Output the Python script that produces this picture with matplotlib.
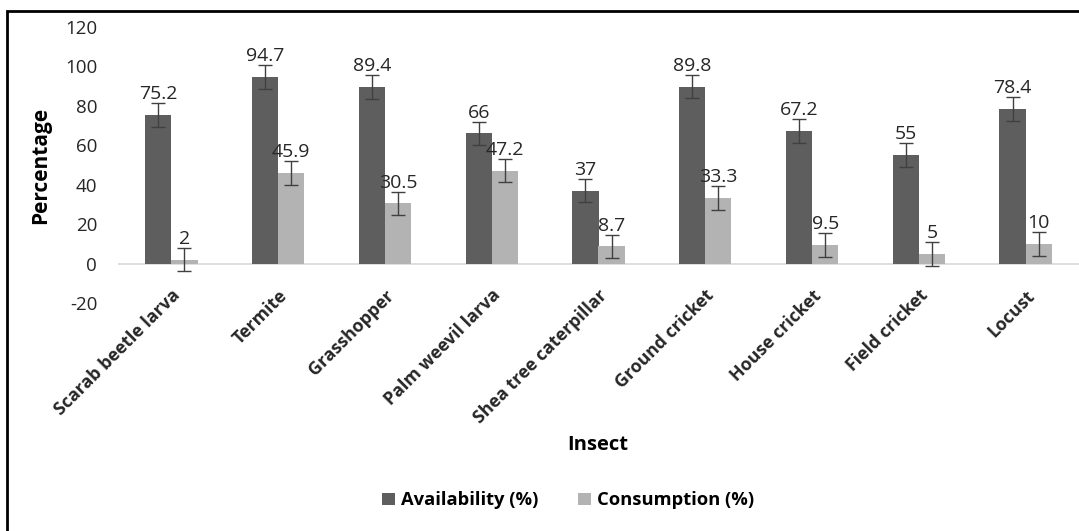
import matplotlib
matplotlib.use("Agg")
import matplotlib.pyplot as plt
from matplotlib.patches import Rectangle
import numpy as np

categories = ["Scarab beetle larva", "Termite", "Grasshopper", "Palm weevil larva",
              "Shea tree caterpillar", "Ground cricket", "House cricket", "Field cricket", "Locust"]
availability = [75.2, 94.7, 89.4, 66, 37, 89.8, 67.2, 55, 78.4]
consumption = [2, 45.9, 30.5, 47.2, 8.7, 33.3, 9.5, 5, 10]
avail_err = [6, 6, 6, 6, 6, 6, 6, 6, 6]
cons_err = [6, 6, 6, 6, 6, 6, 6, 6, 6]
avail_labels = ["75.2", "94.7", "89.4", "66", "37", "89.8", "67.2", "55", "78.4"]
cons_labels = ["2", "45.9", "30.5", "47.2", "8.7", "33.3", "9.5", "5", "10"]
yticks = [-20, 0, 20, 40, 60, 80, 100, 120]

plt.rcParams['font.family'] = ['Open Sans', 'DejaVu Sans']

W, H = 1079, 531
fig = plt.figure(figsize=(W / 100, H / 100), dpi=100)
ax = fig.add_axes([118 / W, 1 - 303 / H, (1079 - 118) / W, (303 - 27) / H])

x = np.arange(len(categories))
bw = 0.245
dark = "#5E5E5E"
light = "#B3B3B3"
ekw = dict(ecolor="#404040", elinewidth=1.0, capsize=5, capthick=1.0)
b1 = ax.bar(x - bw / 2, availability, bw, color=dark, yerr=avail_err, error_kw=ekw,
            label="Availability (%)", zorder=2)
b2 = ax.bar(x + bw / 2, consumption, bw, color=light, yerr=cons_err, error_kw=ekw,
            label="Consumption (%)", zorder=2)

for xi, v, t in zip(x - bw / 2, availability, avail_labels):
    ax.annotate(t, (xi, v), xytext=(0, 15), textcoords="offset points",
                ha="center", va="center", fontsize=14, color="#262626")
for xi, v, t in zip(x + bw / 2, consumption, cons_labels):
    ax.annotate(t, (xi, v), xytext=(0, 15), textcoords="offset points",
                ha="center", va="center", fontsize=14, color="#262626")

ax.axhline(0, color="#D9D9D9", linewidth=1.2, zorder=1)
ax.set_xlim(-0.5, len(categories) - 0.5)
ax.set_ylim(-20, 120)
ax.set_yticks(yticks)
ax.set_yticklabels([str(t) for t in yticks], fontsize=13.5, color="#262626")
ax.set_xticks(x)
ax.set_xticklabels(categories, rotation=45, ha="right", rotation_mode="anchor",
                   fontsize=12.8, fontweight="bold", color="#262626")
ax.tick_params(axis="both", length=0)
ax.tick_params(axis="x", pad=-12)
ax.tick_params(axis="y", pad=15)
for s in ax.spines.values():
    s.set_visible(False)

ax.set_ylabel("Percentage", fontsize=15, fontweight="bold", color="black", labelpad=10)
fig.text(598 / W, 1 - 445 / H, "Insect", ha="center", va="center",
         fontsize=14.5, fontweight="bold", color="black")

leg = fig.legend(handles=[b1, b2], labels=["Availability (%)", "Consumption (%)"],
                 loc="center", bbox_to_anchor=(568 / W, 1 - 500 / H), ncol=2,
                 frameon=False, prop={"weight": "bold", "size": 13.2},
                 handlelength=0.7, handleheight=0.7, handletextpad=0.3, columnspacing=2.2)
for h in leg.legend_handles:
    h.set_height(9)
    h.set_width(9)

fig.add_artist(Rectangle((6.5 / W, -0.1), 1.2, 1 - 10.5 / H + 0.1, transform=fig.transFigure,
                         fill=False, edgecolor="black", linewidth=2.0))

fig.savefig("out.png", dpi=100)
